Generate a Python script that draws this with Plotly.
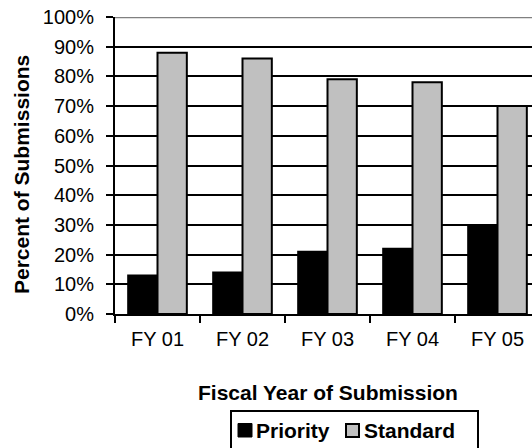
import plotly.graph_objects as go

# Share of submissions by review type, per fiscal year (fractions of 1)
fiscal_years = ["FY 01", "FY 02", "FY 03", "FY 04", "FY 05"]
priority = [0.13, 0.14, 0.21, 0.22, 0.30]
standard = [0.88, 0.86, 0.79, 0.78, 0.70]
y_ticks = [i / 10 for i in range(11)]

W, H = 532, 448
L, R, T, B = 115, 0, 17, 134
PW, PH = W - L - R, H - T - B
FONT = "Liberation Sans, Arial, sans-serif"


def px(x):
    return (x - L) / PW


def py(y):
    return (H - B - y) / PH


fig = go.Figure()
fig.add_trace(go.Bar(x=fiscal_years, y=priority, name="Priority",
                     marker=dict(color="#000000", line=dict(color="#000000", width=2))))
fig.add_trace(go.Bar(x=fiscal_years, y=standard, name="Standard",
                     marker=dict(color="#C0C0C0", line=dict(color="#000000", width=2))))

# category width in pixels is 85, the plot runs past the right edge of the page
x_hi = PW / 85 - 0.5

fig.update_layout(
    width=W, height=H,
    margin=dict(l=L, r=R, t=T, b=B, autoexpand=False),
    paper_bgcolor="white", plot_bgcolor="white",
    barmode="group", bargap=0.31, bargroupgap=0,
    showlegend=False,
    font=dict(family=FONT, color="#000000", size=20),
    xaxis=dict(range=[-0.5, x_hi], showline=True, linecolor="#000000", linewidth=2,
               ticks="outside", tickson="boundaries", ticklen=7, tickwidth=2,
               tickcolor="#000000", showgrid=False, tickfont=dict(size=20),
               ticklabelstandoff=6),
    yaxis=dict(range=[0, 1], tickvals=y_ticks, tickformat=".0%", showline=True,
               linecolor="#000000", linewidth=2, ticks="outside", ticklen=7,
               tickwidth=2, tickcolor="#000000", showgrid=True,
               gridcolor="#000000", gridwidth=2, zeroline=False,
               tickfont=dict(size=20), ticklabelstandoff=8),
)

# grey plot-area border along the top
fig.add_shape(type="line", xref="paper", yref="y", x0=0, x1=1, y0=1, y1=1,
              line=dict(color="#808080", width=2.5), layer="above")

# axis titles
fig.add_annotation(text="<b>Percent of Submissions</b>", xref="paper", yref="paper",
                   x=px(21), y=py(175), textangle=-90, showarrow=False,
                   font=dict(size=21), xanchor="center", yanchor="middle")
fig.add_annotation(text="<b>Fiscal Year of Submission</b>", xref="paper", yref="paper",
                   x=px(327.5), y=py(392), showarrow=False,
                   font=dict(size=21), xanchor="center", yanchor="middle")

# legend box
fig.add_shape(type="rect", xref="paper", yref="paper",
              x0=px(231), x1=px(478), y0=py(411), y1=py(470),
              line=dict(color="#000000", width=2), fillcolor="rgba(0,0,0,0)")
fig.add_shape(type="rect", xref="paper", yref="paper",
              x0=px(238), x1=px(252), y0=py(423.5), y1=py(437),
              line=dict(color="#000000", width=1), fillcolor="#000000")
fig.add_shape(type="rect", xref="paper", yref="paper",
              x0=px(346), x1=px(359), y0=py(424), y1=py(437),
              line=dict(color="#000000", width=2), fillcolor="#C0C0C0")
fig.add_annotation(text="<b>Priority</b>", xref="paper", yref="paper",
                   x=px(254), y=py(430), showarrow=False, font=dict(size=21),
                   xanchor="left", yanchor="middle")
fig.add_annotation(text="<b>Standard</b>", xref="paper", yref="paper",
                   x=px(362), y=py(430), showarrow=False, font=dict(size=21),
                   xanchor="left", yanchor="middle")

fig.write_html("out.html")
